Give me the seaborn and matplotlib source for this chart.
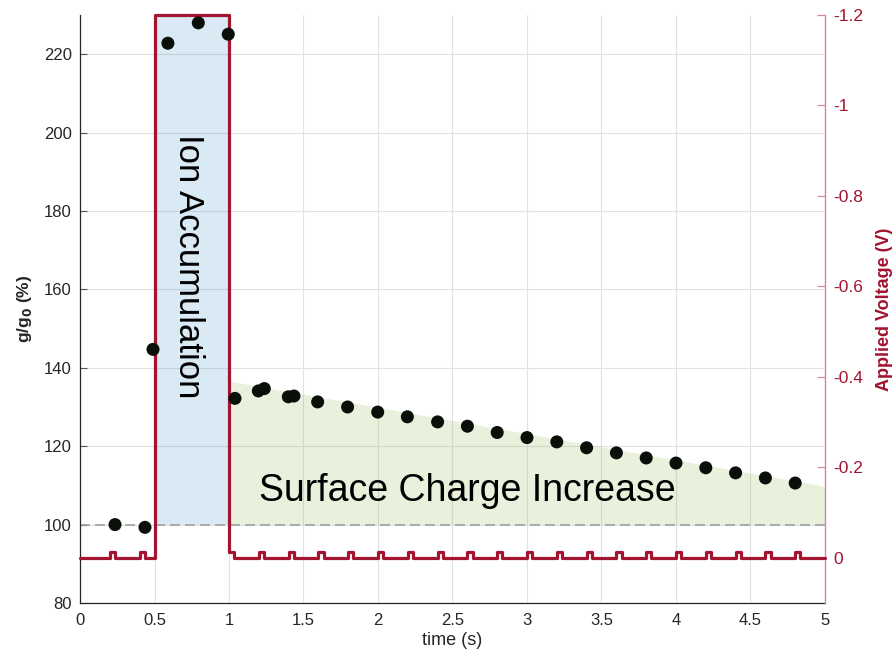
import matplotlib
matplotlib.use("Agg")
import matplotlib.pyplot as plt
import numpy as np
import pandas as pd
import seaborn as sns

# ---------------- data ----------------
time_s = [0.235, 0.436, 0.49, 0.59, 0.794, 0.995, 1.04, 1.197, 1.237, 1.398, 1.436,
          1.595, 1.796, 1.998, 2.197, 2.40, 2.60, 2.80, 3.0, 3.2, 3.4, 3.6, 3.8,
          4.0, 4.2, 4.4, 4.6, 4.8]
g_ratio = [100.0, 99.3, 144.7, 222.8, 228.0, 225.1, 132.2, 134.1, 134.7, 132.6, 132.8,
           131.3, 130.0, 128.7, 127.5, 126.2, 125.1, 123.5, 122.2, 121.1, 119.6, 118.3,
           117.0, 115.7, 114.5, 113.2, 111.9, 110.6]

# voltage protocol
read_times = [0.2, 0.4, 1.0, 1.2, 1.4, 1.6, 1.8, 2.0, 2.2, 2.4, 2.6, 2.8, 3.0,
              3.2, 3.4, 3.6, 3.8, 4.0, 4.2, 4.4, 4.6, 4.8]
read_width = 0.035
read_volt = -0.013
write_start, write_end, write_volt = 0.5, 1.0, -1.2
t_end = 5.0

# shaded regions
ion_span = [0.5, 1.0]
surface_x = [1.0, 5.0]
surface_top = [136.6, 109.8]
baseline = 100

x_ticks = [0, 0.5, 1, 1.5, 2, 2.5, 3, 3.5, 4, 4.5, 5]
x_ticklabels = ["0", "0.5", "1", "1.5", "2", "2.5", "3", "3.5", "4", "4.5", "5"]
y_ticks = [80, 100, 120, 140, 160, 180, 200, 220]
v_ticks = [-1.2, -1.0, -0.8, -0.6, -0.4, -0.2, 0.0]
v_ticklabels = ["-1.2", "-1", "-0.8", "-0.6", "-0.4", "-0.2", "0"]

# build voltage step trace
vt, vv = [0.0], [0.0]
for rt in read_times:
    if rt == write_end:
        vt += [write_start, write_start, write_end, write_end, rt + read_width, rt + read_width]
        vv += [0.0, write_volt, write_volt, read_volt, read_volt, 0.0]
    else:
        vt += [rt, rt, rt + read_width, rt + read_width]
        vv += [0.0, read_volt, read_volt, 0.0]
vt.append(t_end)
vv.append(0.0)
volt_df = pd.DataFrame({"t": vt, "v": vv})
g_df = pd.DataFrame({"t": time_s, "g": g_ratio})

# ---------------- style ----------------
sns.set_style("white")
plt.rcParams["font.family"] = ["Liberation Sans", "DejaVu Sans"]

RED = "#a2142f"
RED_SPINE = "#d4899a"
DARK = "#262626"

fig = plt.figure(figsize=(8.93, 6.55), dpi=100)
ax = fig.add_axes([80 / 893, 52 / 655, 745 / 893, 588 / 655])
ax2 = ax.twinx()

# fills & reference line on the main axis
ax.fill_between(ion_span, [baseline, baseline], [230, 230], color="#0072BD", alpha=0.15,
                linewidth=0, zorder=1)
ax.fill_between(surface_x, [baseline, baseline], surface_top, color="#77AC30", alpha=0.16,
                linewidth=0, zorder=1)
ax.axhline(baseline, color="#a0a0a0", lw=1.2, dashes=(6, 3), zorder=2)

ax.set_xlim(0, 5)
ax.set_ylim(80, 230)
ax.set_xticks(x_ticks)
ax.set_xticklabels(x_ticklabels)
ax.set_yticks(y_ticks)
ax.grid(True, color="#e2e2e2", lw=0.8)
ax.set_axisbelow(True)

# voltage on the twin axis
sns.lineplot(data=volt_df, x="t", y="v", ax=ax2, sort=False, estimator=None,
             color=RED, lw=2.3, solid_joinstyle="round", clip_on=False, zorder=3)
ax2.set_ylim(0.1, -1.2)
ax2.set_yticks(v_ticks)
ax2.set_yticklabels(v_ticklabels)

# data points drawn on top, in the main axis data coordinates
sns.scatterplot(data=g_df, x="t", y="g", ax=ax2, transform=ax.transData,
                color="#0a0f0a", s=88, edgecolor="none", zorder=5, clip_on=False)
ax2.set_ylim(0.1, -1.2)
ax2.set_xlim(0, 5)

# texts
ax.text(0.725, 166, "Ion Accumulation", rotation=-90, ha="center", va="center",
        fontsize=25, color="black", zorder=4)
ax.text(2.6, 106, "Surface Charge Increase", ha="center", va="baseline",
        fontsize=27, color="black", zorder=4)

# labels
ax.set_xlabel("time (s)", fontsize=13, color=DARK, labelpad=3)
ax.set_ylabel("g/g$_\\mathbf{0}$ (%)", fontsize=12.5, fontweight="bold", color=DARK, labelpad=7)
ax2.set_ylabel("Applied Voltage (V)", fontsize=13, fontweight="bold", color=RED, labelpad=9)

# spines & ticks
for s in ["top", "right"]:
    ax.spines[s].set_visible(False)
for s in ["left", "bottom"]:
    ax.spines[s].set_color(DARK)
    ax.spines[s].set_linewidth(0.9)
for s in ["top", "left", "bottom"]:
    ax2.spines[s].set_visible(False)
ax2.spines["right"].set_color(RED_SPINE)
ax2.spines["right"].set_linewidth(1.0)

ax.tick_params(axis="both", direction="in", length=5, width=0.8, color="#555555",
               labelcolor=DARK, labelsize=12, pad=6)
ax.tick_params(axis="x", pad=7)
ax2.tick_params(axis="y", direction="in", length=6, width=0.9, color=RED_SPINE,
                labelcolor=RED, labelsize=12.5, pad=6)

fig.savefig("out.png", dpi=100)
